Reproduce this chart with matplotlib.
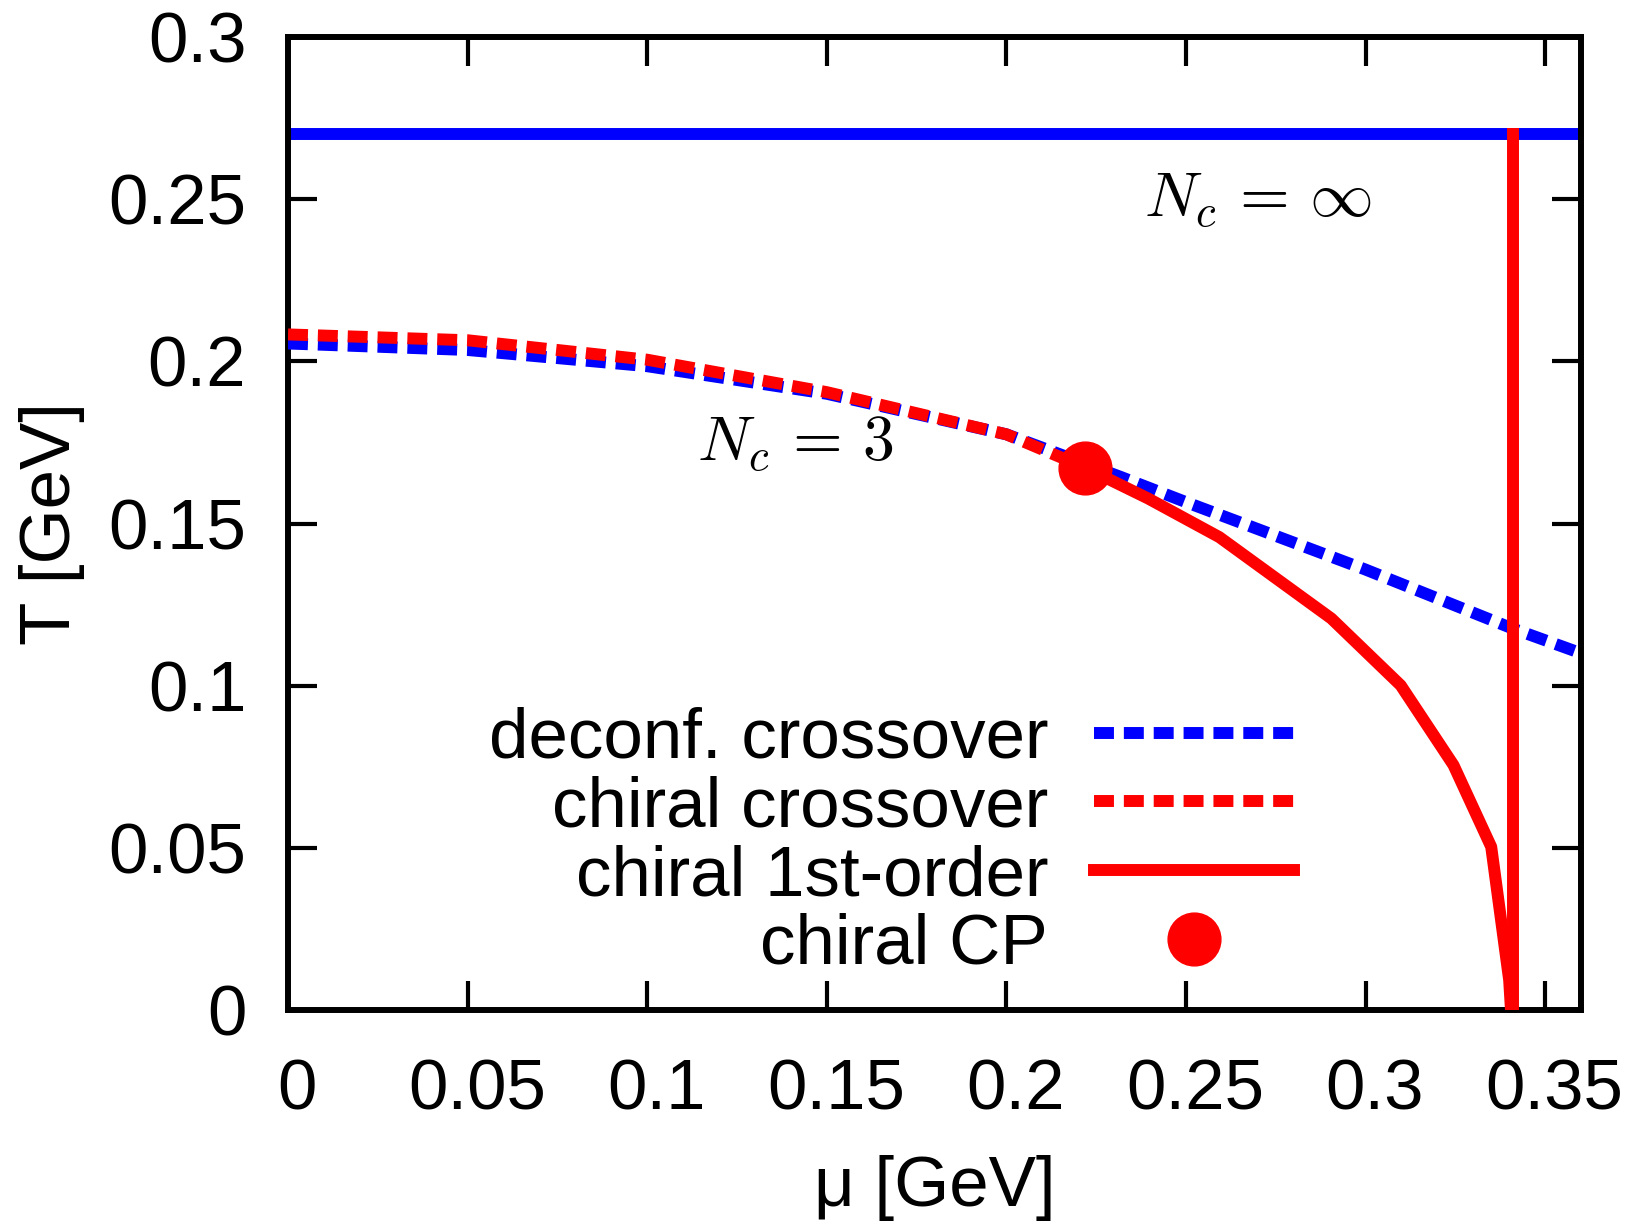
import matplotlib
matplotlib.use('Agg')
import matplotlib.pyplot as plt
import matplotlib.transforms as mtransforms
import numpy as np

plt.rcParams['font.family'] = ['Liberation Sans', 'DejaVu Sans']
plt.rcParams['mathtext.fontset'] = 'cm'

# %% data (mu, T in GeV)
mu_deconf = [0.0, 0.05, 0.1, 0.15, 0.2, 0.232, 0.25, 0.3, 0.341, 0.36]
T_deconf = [0.2055, 0.2035, 0.1985, 0.1900, 0.1775, 0.1643, 0.1566, 0.1358, 0.1176, 0.1100]

mu_chiral_co = [0.0, 0.05, 0.1, 0.15, 0.2, 0.222]
T_chiral_co = [0.2083, 0.2065, 0.2005, 0.1905, 0.1775, 0.1672]

mu_chiral_1st = [0.222, 0.2395, 0.2593, 0.2905, 0.3098, 0.3245, 0.3350, 0.3400, 0.3405]
T_chiral_1st = [0.1672, 0.1577, 0.1458, 0.1207, 0.1001, 0.0755, 0.0503, 0.0092, 0.0]

mu_cp, T_cp = 0.222, 0.1672

# large-Nc lines
T_deconf_inf = 0.27
mu_chiral_inf = 0.341

xticks = [0, 0.05, 0.1, 0.15, 0.2, 0.25, 0.3, 0.35]
xticklabels = ['0', '0.05', '0.1', '0.15', '0.2', '0.25', '0.3', '0.35']
yticks = [0, 0.05, 0.1, 0.15, 0.2, 0.25, 0.3]
yticklabels = ['0', '0.05', '0.1', '0.15', '0.2', '0.25', '0.3']

# %% plot
fig = plt.figure(figsize=(16.39, 12.25), dpi=100)
ax = fig.add_axes([288/1639, 1 - 1010/1225, (1581 - 288)/1639, (1010 - 37)/1225])

lw = 8.6
dash = (1.67, 0.83)
fs = 51

ax.axhline(T_deconf_inf, color='blue', lw=lw, zorder=2)
ax.plot(mu_deconf, T_deconf, color='blue', lw=lw, dashes=dash,
        label='deconf. crossover', zorder=3)
ax.plot(mu_chiral_co, T_chiral_co, color='red', lw=lw, dashes=dash,
        label='chiral crossover', zorder=4)
ax.plot(mu_chiral_1st, T_chiral_1st, color='red', lw=lw,
        label='chiral 1st-order', zorder=5)
ax.plot([mu_chiral_inf, mu_chiral_inf], [0, T_deconf_inf], color='red', lw=lw, zorder=5)
ax.plot([mu_cp], [T_cp], 'o', color='red', ms=38, ls='none',
        label='chiral CP', zorder=6)

ax.text(0.2701, 0.2446, r'$N_c\,=\,\infty$', fontsize=46, ha='center', va='baseline')
ax.text(0.1412, 0.1693, r'$N_c\,=\,3$', fontsize=46, ha='center', va='baseline')

ax.set_xlim(0, 0.36)
ax.set_ylim(0, 0.3)
ax.set_xticks(xticks)
ax.set_xticklabels(xticklabels)
ax.set_yticks(yticks)
ax.set_yticklabels(yticklabels)
ax.tick_params(direction='in', length=21, width=3, labelsize=fs,
               top=True, right=True)
ax.tick_params(axis='y', pad=30)
ax.tick_params(axis='x', pad=35)
for s in ax.spines.values():
    s.set_linewidth(4.3)

# gnuplot puts the x labels a little to the right of the ticks
shift = mtransforms.ScaledTranslation(0.094, 0, fig.dpi_scale_trans)
for lab in ax.get_xticklabels():
    lab.set_transform(lab.get_transform() + shift)

ax.set_xlabel(r'μ [GeV]', fontsize=fs)
ax.set_ylabel('T [GeV]', fontsize=fs)
ax.xaxis.set_label_coords(0.5, -0.183)
ax.yaxis.set_label_coords(-0.1825, 0.5)
ax.xaxis.label.set_va('center')
ax.yaxis.label.set_va('center')

leg = ax.legend(loc='center right', bbox_to_anchor=(0.778, 0.172),
                frameon=False, markerfirst=False, fontsize=51, numpoints=1,
                handlelength=2.82, handletextpad=0.65, labelspacing=0.04,
                borderpad=0, borderaxespad=0)
for col in leg._legend_handle_box.get_children():
    col.align = 'right'

fig.savefig('out.png', dpi=100)
